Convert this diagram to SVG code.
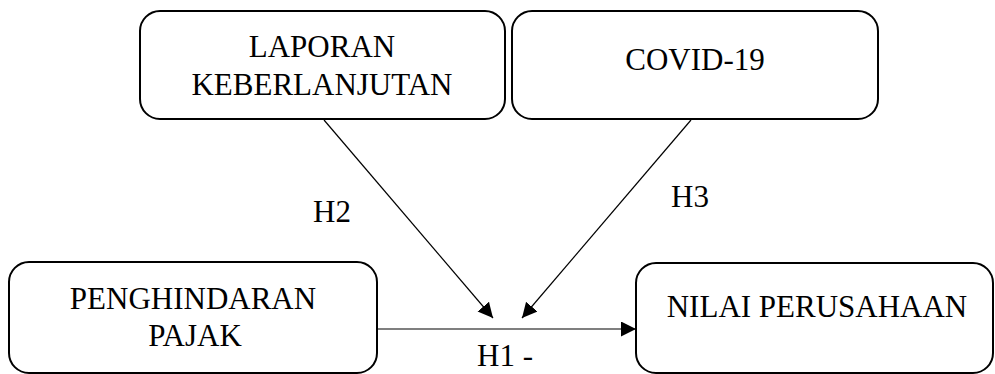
<svg xmlns="http://www.w3.org/2000/svg" width="995" height="374" viewBox="0 0 995 374">
<style>
.box{fill:#fff;stroke:#000;stroke-width:2}
.t{font-family:"Liberation Serif","Times New Roman",serif;font-size:31px;fill:#000;text-anchor:middle}
.c{stroke:#000;stroke-width:1.2;fill:none}
</style>
<defs>
<marker id="ah" markerUnits="userSpaceOnUse" markerWidth="16" markerHeight="16" viewBox="0 0 16 16" refX="15" refY="7.5" orient="auto">
<path d="M0,0 L15,7.5 L0,15 z" fill="#000"/>
</marker>
</defs>
<rect width="995" height="374" fill="#fff"/>
<g id="laporan">
<rect class="box" x="140" y="11" width="365" height="108" rx="20"/>
<text class="t" x="322" y="57">LAPORAN</text>
<text class="t" x="322" y="95">KEBERLANJUTAN</text>
</g>
<g id="covid">
<rect class="box" x="512" y="11" width="366" height="108" rx="20"/>
<text class="t" x="695" y="70">COVID-19</text>
</g>
<g id="penghindaran">
<rect class="box" x="9" y="262" width="368" height="111" rx="20"/>
<text class="t" x="193" y="309">PENGHINDARAN</text>
<text class="t" x="195" y="346">PAJAK</text>
</g>
<g id="nilai">
<rect class="box" x="636" y="263" width="357" height="110" rx="20"/>
<text class="t" x="817" y="317">NILAI PERUSAHAAN</text>
</g>
<g id="connectors">
<line class="c" x1="377" y1="329" x2="636" y2="329" marker-end="url(#ah)"/>
<line class="c" x1="324" y1="120" x2="493" y2="318" marker-end="url(#ah)"/>
<line class="c" x1="691" y1="120" x2="522" y2="318" marker-end="url(#ah)"/>
<text class="t" x="332" y="222">H2</text>
<text class="t" x="690" y="207">H3</text>
<text class="t" x="505" y="366">H1 -</text>
</g>
</svg>
